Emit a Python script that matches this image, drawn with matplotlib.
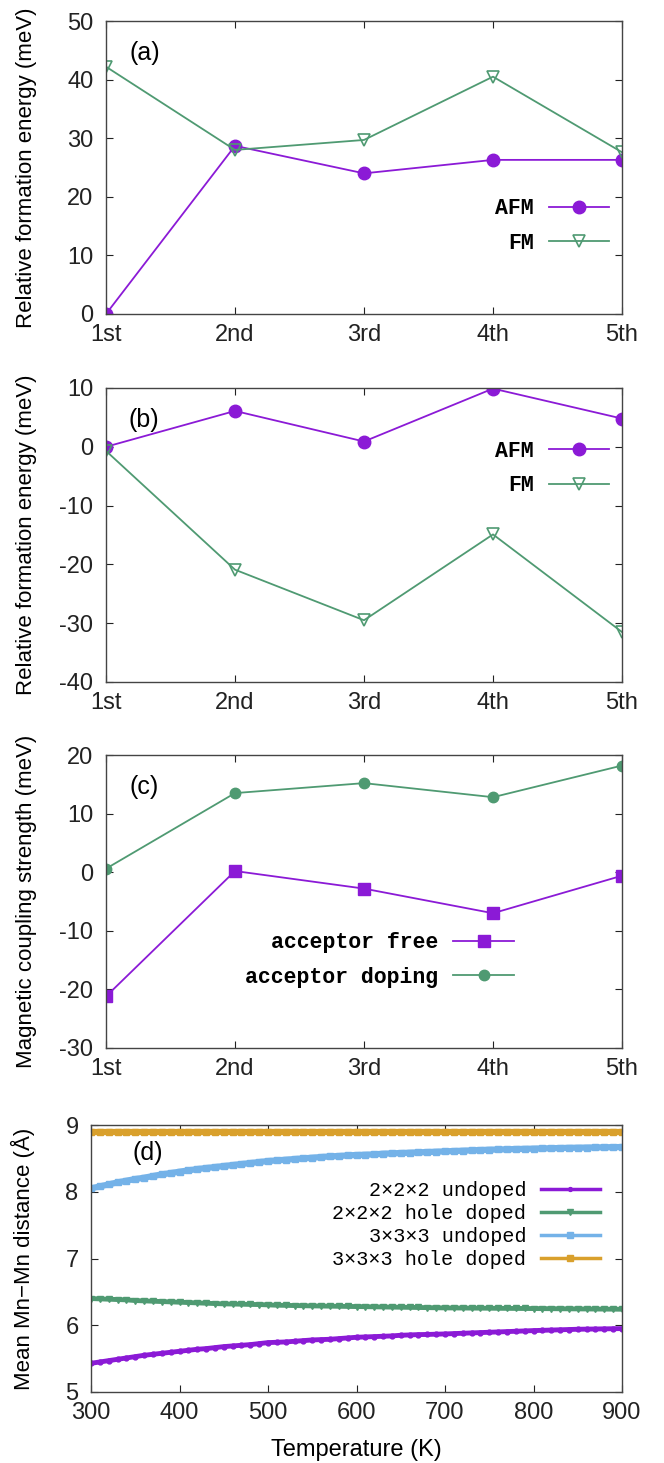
import numpy as np
import matplotlib
matplotlib.use('Agg')
import matplotlib.pyplot as plt

plt.rcParams['font.family'] = ['Liberation Sans', 'DejaVu Sans']

# ---- data ----
shells = ['1st', '2nd', '3rd', '4th', '5th']

# (a)
afm_a = [0.0, 28.7, 24.0, 26.3, 26.3]
fm_a = [42.2, 28.0, 29.7, 40.5, 27.6]
# (b)
afm_b = [0.0, 6.1, 0.9, 9.9, 4.8]
fm_b = [-0.7, -20.9, -29.5, -14.9, -31.5]
# (c)
acc_free = [-21.2, 0.2, -2.8, -7.0, -0.6]
acc_doping = [0.6, 13.5, 15.2, 12.8, 18.2]

# (d) temperature 300..900 K every 10 K
temps = np.arange(300, 901, 10)
d222_undoped = [5.43, 5.45, 5.47, 5.49, 5.51, 5.53, 5.55, 5.565, 5.58, 5.595,
                5.61, 5.625, 5.64, 5.65, 5.665, 5.68, 5.69, 5.70, 5.71, 5.725,
                5.74, 5.745, 5.75, 5.76, 5.77, 5.78, 5.785, 5.79, 5.80, 5.81,
                5.82, 5.825, 5.83, 5.835, 5.84, 5.85, 5.855, 5.86, 5.862, 5.866,
                5.87, 5.875, 5.88, 5.885, 5.89, 5.895, 5.90, 5.905, 5.91, 5.915,
                5.92, 5.924, 5.928, 5.932, 5.936, 5.94, 5.942, 5.944, 5.946, 5.948,
                5.95]
d222_hole = [6.40, 6.395, 6.39, 6.385, 6.38, 6.37, 6.365, 6.36, 6.355, 6.35,
             6.345, 6.34, 6.335, 6.33, 6.325, 6.32, 6.318, 6.315, 6.312, 6.31,
             6.305, 6.30, 6.298, 6.295, 6.292, 6.29, 6.288, 6.286, 6.284, 6.282,
             6.28, 6.278, 6.276, 6.274, 6.272, 6.27, 6.268, 6.266, 6.264, 6.262,
             6.26, 6.259, 6.258, 6.257, 6.256, 6.255, 6.254, 6.253, 6.252, 6.251,
             6.25, 6.249, 6.248, 6.247, 6.246, 6.245, 6.244, 6.243, 6.242, 6.241,
             6.24]
d333_undoped = [8.05, 8.08, 8.11, 8.14, 8.165, 8.19, 8.21, 8.235, 8.26, 8.28,
                8.30, 8.32, 8.34, 8.355, 8.37, 8.385, 8.40, 8.415, 8.43, 8.445,
                8.46, 8.47, 8.48, 8.49, 8.50, 8.51, 8.52, 8.53, 8.535, 8.545,
                8.55, 8.555, 8.56, 8.57, 8.575, 8.58, 8.585, 8.59, 8.595, 8.60,
                8.605, 8.61, 8.615, 8.62, 8.625, 8.63, 8.633, 8.636, 8.64, 8.643,
                8.646, 8.649, 8.652, 8.655, 8.658, 8.66, 8.662, 8.664, 8.666, 8.668,
                8.67]
d333_hole = [8.90] * 61

purple = '#8b1ad6'
green = '#4f9a72'
blue = '#74b2e8'
orange = '#d9a02c'

W, H = 664.0, 1463.0
fig = plt.figure(figsize=(W / 100, H / 100), dpi=100)


def box(l, t, r, b):
    # pixel box -> figure fraction
    return [l / W, 1 - b / H, (r - l) / W, (b - t) / H]


def style(ax):
    ax.tick_params(direction='in', top=True, right=True, labelsize=17,
                   length=5, width=0.8, colors='#222222')
    ax.tick_params(axis='y', pad=9)
    ax.tick_params(axis='x', pad=7)
    for s in ax.spines.values():
        s.set_color('#444444')
        s.set_linewidth(1.0)


mono = ['Liberation Mono', 'DejaVu Sans Mono']
x = np.arange(len(shells))
leg_kw = dict(loc='upper right', frameon=False, markerfirst=False,
              prop={'family': mono, 'size': 15.5, 'weight': 'bold'}, handlelength=2.8,
              handletextpad=0.7, labelspacing=0.62, borderpad=0, borderaxespad=0)

# ---- (a) ----
ax = fig.add_axes(box(106, 21, 622, 314))
ax.plot(x, afm_a, color=purple, lw=1.3, marker='o', ms=9, label='AFM')
ax.plot(x, fm_a, color=green, lw=1.3, marker='v', ms=9, mfc='none', mew=1.2, label='FM')
ax.set_xlim(0, 4)
ax.set_ylim(0, 50)
ax.set_xticks(x)
ax.set_xticklabels(shells)
ax.set_ylabel('Relative formation energy (meV)', fontsize=16)
ax.yaxis.set_label_coords(-0.134, 0.5)
ax.text(0.076, 0.89, '(a)', transform=ax.transAxes, fontsize=18, ha='center', va='center')
ax.legend(bbox_to_anchor=(0.975, 0.395), **leg_kw)
style(ax)

# ---- (b) ----
ax = fig.add_axes(box(106, 388, 622, 682))
ax.plot(x, afm_b, color=purple, lw=1.3, marker='o', ms=9, label='AFM')
ax.plot(x, fm_b, color=green, lw=1.3, marker='v', ms=9, mfc='none', mew=1.2, label='FM')
ax.set_xlim(0, 4)
ax.set_ylim(-40, 10)
ax.set_yticks([-40, -30, -20, -10, 0, 10])
ax.set_yticklabels(['-40', '-30', '-20', '-10', '0', '10'])
ax.set_xticks(x)
ax.set_xticklabels(shells)
ax.set_ylabel('Relative formation energy (meV)', fontsize=16)
ax.yaxis.set_label_coords(-0.134, 0.5)
ax.text(0.074, 0.89, '(b)', transform=ax.transAxes, fontsize=18, ha='center', va='center')
ax.legend(bbox_to_anchor=(0.975, 0.82), **leg_kw)
style(ax)

# ---- (c) ----
ax = fig.add_axes(box(106, 755, 622, 1048))
ax.plot(x, acc_free, color=purple, lw=1.3, marker='s', ms=8.5, label='acceptor free')
ax.plot(x, acc_doping, color=green, lw=1.3, marker='o', ms=7.5, label='acceptor doping')
ax.set_xlim(0, 4)
ax.set_ylim(-30, 20)
ax.set_yticks([-30, -20, -10, 0, 10, 20])
ax.set_yticklabels(['-30', '-20', '-10', '0', '10', '20'])
ax.set_xticks(x)
ax.set_xticklabels(shells)
ax.set_ylabel('Magnetic coupling strength (meV)', fontsize=16)
ax.yaxis.set_label_coords(-0.134, 0.5)
ax.text(0.074, 0.89, '(c)', transform=ax.transAxes, fontsize=18, ha='center', va='center')
ax.legend(bbox_to_anchor=(0.79, 0.395), **leg_kw)
style(ax)

# ---- (d) ----
ax = fig.add_axes(box(91, 1125, 622, 1392))
ax.plot(temps, d222_undoped, color=purple, lw=3.5, marker='o', ms=3.5, label='2×2×2 undoped')
ax.plot(temps, d222_hole, color=green, lw=3.5, marker='v', ms=5, label='2×2×2 hole doped')
ax.plot(temps, d333_undoped, color=blue, lw=4.5, marker='s', ms=5, label='3×3×3 undoped')
ax.plot(temps, d333_hole, color=orange, lw=4.5, marker='s', ms=5, label='3×3×3 hole doped')
ax.set_xlim(300, 900)
ax.set_ylim(5, 9)
ax.set_xticks(range(300, 901, 100))
ax.set_ylabel('Mean Mn\u2212Mn distance (Å)', fontsize=16)
ax.yaxis.set_label_coords(-0.105, 0.5)
ax.set_xlabel('Temperature (K)', fontsize=17)
ax.xaxis.set_label_coords(0.5, -0.175)
ax.text(0.107, 0.895, '(d)', transform=ax.transAxes, fontsize=18, ha='center', va='center')
handles = ax.get_lines()
ax.legend(loc='upper right', bbox_to_anchor=(0.958, 0.79), frameon=False, markerfirst=False,
          prop={'family': mono, 'size': 14.5}, handlelength=2.9,
          handletextpad=0.75, labelspacing=0.2, borderpad=0, borderaxespad=0, numpoints=1,
          markerscale=0.8)
for lh in ax.get_legend().get_lines():
    lh.set_linewidth(2.5)
style(ax)

fig.savefig('out.png', dpi=100)
